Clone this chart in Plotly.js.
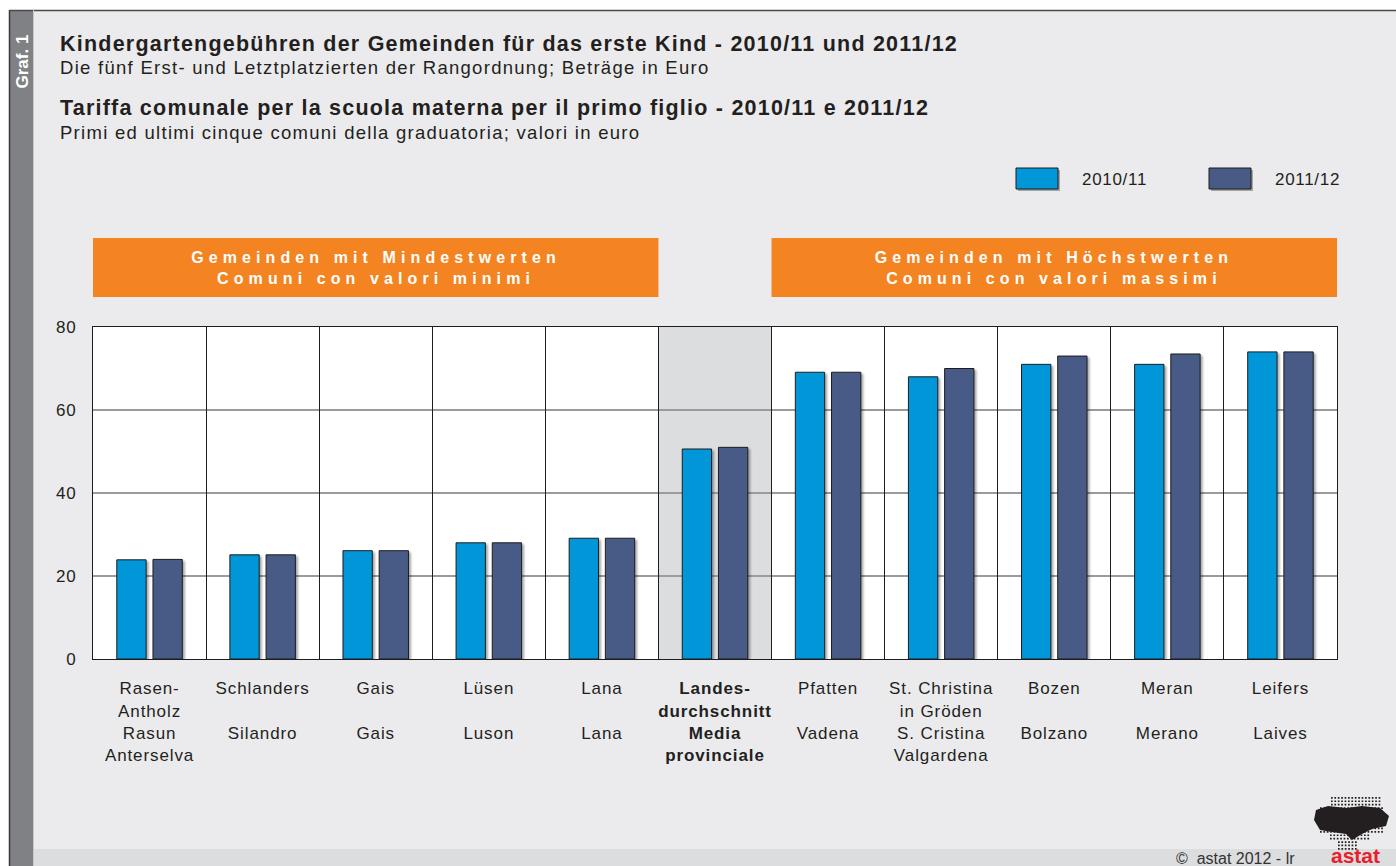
<!DOCTYPE html>
<html>
<head>
<meta charset="utf-8">
<script src="https://cdn.plot.ly/plotly-3.0.1.min.js"></script>
<style>
  html, body { margin: 0; padding: 0; background: #EBEBED; }
  #chart { width: 1396px; height: 866px; }
  .bars path { filter: drop-shadow(2px 2px 1px rgba(0,0,0,0.35)); }
  g.annotation[data-index="0"] text, g.annotation[data-index="2"] text { letter-spacing: 1.22px; }
  g.annotation[data-index="1"] text, g.annotation[data-index="3"] text { letter-spacing: 1.28px; }
  g.annotation[data-index="4"] text, g.annotation[data-index="5"] text { letter-spacing: 5.1px; }
  g.annotation[data-index="6"] text, g.annotation[data-index="7"] text { letter-spacing: 0.7px; }
  .xtick text, .ytick text { letter-spacing: 0.9px; }
</style>
</head>
<body>
<div id="chart"></div>
<script>
// ---- data ----
const categories = [
  "Rasen-<br>Antholz<br>Rasun<br>Anterselva",
  "Schlanders<br>\u00a0<br>Silandro",
  "Gais<br>\u00a0<br>Gais",
  "Lüsen<br>\u00a0<br>Luson",
  "Lana<br>\u00a0<br>Lana",
  "<b>Landes-</b><br><b>durchschnitt</b><br><b>Media</b><br><b>provinciale</b>",
  "Pfatten<br>\u00a0<br>Vadena",
  "St. Christina<br>in Gröden<br>S. Cristina<br>Valgardena",
  "Bozen<br>\u00a0<br>Bolzano",
  "Meran<br>\u00a0<br>Merano",
  "Leifers<br>\u00a0<br>Laives"
];
const values2010 = [23.9, 25.1, 26.1, 28.0, 29.1, 50.6, 69.1, 68.0, 71.0, 71.0, 74.0];
const values2011 = [24.0, 25.1, 26.1, 28.0, 29.1, 51.0, 69.1, 70.0, 73.0, 73.5, 74.0];
const seriesNames = ["2010/11", "2011/12"];
const averageIndex = 5;
const yTicks = [0, 20, 40, 60, 80];

// ---- geometry helpers (pixel -> paper) ----
const W = 1396, H = 866, ML = 93, MR = 59, MT = 327, MB = 207;
const PW = W - ML - MR, PH = H - MT - MB;
const fx = x => (x - ML) / PW;
const fy = y => (H - MB - y) / PH;

const FONT = "Liberation Sans, Arial, sans-serif";
const TXT = "#231F20";
const C1 = "#0096D8", C2 = "#475B86", ORANGE = "#F48422";
const n = categories.length;

const traces = [
  { type: "bar", x: categories, y: values2010, name: seriesNames[0],
    marker: { color: C1, line: { color: "#1d1d1f", width: 1 } }, hoverinfo: "y" },
  { type: "bar", x: categories, y: values2011, name: seriesNames[1],
    marker: { color: C2, line: { color: "#1d1d1f", width: 1 } }, hoverinfo: "y" },
  // invisible trace to activate overlay axis for category separators
  { type: "scatter", x: [-0.5, n - 0.5], y: [0, 0], xaxis: "x2", mode: "markers",
    marker: { opacity: 0 }, hoverinfo: "skip", showlegend: false }
];

const sep = [];
for (let i = 0; i < n - 1; i++) sep.push(i + 0.5);

// astat logo dot pattern (decorative)
let dots = "";
for (let yy = 797; yy <= 851; yy += 3.4) {
  let x0, x1;
  if (yy < 806) { x0 = 1331; x1 = 1381; }
  else if (yy < 832) { x0 = 1320; x1 = 1384; }
  else if (yy < 840) { x0 = 1330; x1 = 1368; }
  else { x0 = 1338; x1 = 1358; }
  for (let xx = x0; xx <= x1; xx += 3.4) {
    dots += `M ${fx(xx)} ${fy(yy)} L ${fx(xx + 1.7)} ${fy(yy)} L ${fx(xx + 1.7)} ${fy(yy + 1.7)} L ${fx(xx)} ${fy(yy + 1.7)} Z `;
  }
}

const shapes = [
  // white outer margin strips
  { type: "rect", xref: "paper", yref: "paper", x0: fx(0), x1: fx(9), y0: fy(0), y1: fy(H), fillcolor: "#ffffff", line: { width: 0 }, layer: "below" },
  { type: "rect", xref: "paper", yref: "paper", x0: fx(0), x1: fx(W), y0: fy(0), y1: fy(10), fillcolor: "#ffffff", line: { width: 0 }, layer: "below" },
  // sidebar
  { type: "rect", xref: "paper", yref: "paper", x0: fx(10), x1: fx(33), y0: fy(10), y1: fy(H), fillcolor: "#808184", line: { width: 0 }, layer: "below" },
  { type: "line", xref: "paper", yref: "paper", x0: fx(9.5), x1: fx(9.5), y0: fy(10), y1: fy(H), line: { color: "#3a3a3c", width: 1.5 }, layer: "below" },
  { type: "line", xref: "paper", yref: "paper", x0: fx(9), x1: fx(W), y0: fy(10.5), y1: fy(10.5), line: { color: "#4a4a4c", width: 1.5 }, layer: "below" },
  { type: "line", xref: "paper", yref: "paper", x0: fx(33.5), x1: fx(33.5), y0: fy(10), y1: fy(H), line: { color: "#c8c8ca", width: 1 }, layer: "below" },
  // bottom strip
  { type: "rect", xref: "paper", yref: "paper", x0: fx(34), x1: fx(W), y0: fy(849), y1: fy(H), fillcolor: "#DCDDDF", line: { width: 0 }, layer: "below" },
  // orange header boxes aligned with category groups
  { type: "rect", xref: "x", yref: "paper", x0: -0.5, x1: averageIndex - 0.5, y0: fy(297), y1: fy(238), fillcolor: ORANGE, line: { width: 0 } },
  { type: "rect", xref: "x", yref: "paper", x0: averageIndex + 0.5, x1: n - 0.5, y0: fy(297), y1: fy(238), fillcolor: ORANGE, line: { width: 0 } },
  // shaded average column
  { type: "rect", xref: "x", yref: "paper", x0: averageIndex - 0.5, x1: averageIndex + 0.5, y0: 0, y1: 1, fillcolor: "#DCDDDF", line: { width: 0 }, layer: "below" },
  // legend swatches
  { type: "rect", xref: "paper", yref: "paper", x0: fx(1018), x1: fx(1060), y0: fy(191), y1: fy(170), fillcolor: "rgba(0,0,0,0.3)", line: { width: 0 } },
  { type: "rect", xref: "paper", yref: "paper", x0: fx(1016), x1: fx(1058), y0: fy(189), y1: fy(168), fillcolor: C1, line: { color: "#1d1d1f", width: 1 } },
  { type: "rect", xref: "paper", yref: "paper", x0: fx(1211), x1: fx(1253), y0: fy(191), y1: fy(170), fillcolor: "rgba(0,0,0,0.3)", line: { width: 0 } },
  { type: "rect", xref: "paper", yref: "paper", x0: fx(1209), x1: fx(1251), y0: fy(189), y1: fy(168), fillcolor: C2, line: { color: "#1d1d1f", width: 1 } },
  // astat logo (approximation)
  { type: "path", xref: "paper", yref: "paper", path: dots, fillcolor: "#231F20", line: { width: 0 } },
  { type: "path", xref: "paper", yref: "paper",
    path: `M ${fx(1316)} ${fy(810)} L ${fx(1328)} ${fy(806)} L ${fx(1346)} ${fy(808)} L ${fx(1362)} ${fy(806)} L ${fx(1380)} ${fy(808)} L ${fx(1389)} ${fy(816)} L ${fx(1386)} ${fy(826)} L ${fx(1372)} ${fy(829)} L ${fx(1362)} ${fy(834)} L ${fx(1352)} ${fy(840)} L ${fx(1346)} ${fy(834)} L ${fx(1332)} ${fy(832)} L ${fx(1320)} ${fy(830)} L ${fx(1314)} ${fy(820)} Z`,
    fillcolor: "#231F20", line: { width: 0 } }
];

const ann = (text, x, y, opts) => Object.assign({
  text, xref: "paper", yref: "paper", x: fx(x), y: fy(y), showarrow: false,
  xanchor: "left", yanchor: "middle", align: "left", font: { family: FONT, size: 17, color: TXT }
}, opts || {});

const annotations = [
  ann("<b>Kindergartengebühren der Gemeinden für das erste Kind - 2010/11 und 2011/12</b>", 58, 44, { font: { family: FONT, size: 21.5, color: TXT } }),
  ann("Die fünf Erst- und Letztplatzierten der Rangordnung; Beträge in Euro", 58, 67, { font: { family: FONT, size: 18.5, color: TXT } }),
  ann("<b>Tariffa comunale per la scuola materna per il primo figlio - 2010/11 e 2011/12</b>", 58, 108, { font: { family: FONT, size: 21.5, color: TXT } }),
  ann("Primi ed ultimi cinque comuni della graduatoria; valori in euro", 58, 132, { font: { family: FONT, size: 18.5, color: TXT } }),
  { text: "<b>Gemeinden mit Mindestwerten</b><br><b>Comuni con valori minimi</b>", xref: "x", yref: "paper",
    x: (averageIndex - 1) / 2, y: fy(267.5), showarrow: false, xanchor: "center", yanchor: "middle",
    font: { family: FONT, size: 16, color: "#ffffff" } },
  { text: "<b>Gemeinden mit Höchstwerten</b><br><b>Comuni con valori massimi</b>", xref: "x", yref: "paper",
    x: (averageIndex + n) / 2, y: fy(267.5), showarrow: false, xanchor: "center", yanchor: "middle",
    font: { family: FONT, size: 16, color: "#ffffff" } },
  ann(seriesNames[0], 1080, 179),
  ann(seriesNames[1], 1273, 179),
  ann("<b>Graf. 1</b>", 21.5, 62, { textangle: -90, xanchor: "center", align: "center", font: { family: FONT, size: 17, color: "#ffffff" } }),
  ann("©  astat 2012 - lr", 1174, 858, { font: { family: FONT, size: 16, color: "#333333" } }),
  ann("<b>astat</b>", 1356, 855, { xanchor: "center", align: "center", font: { family: FONT, size: 21, color: "#E8202A" } })
];

const layout = {
  width: W, height: H,
  margin: { l: ML, r: MR, t: MT, b: MB, pad: 0 },
  paper_bgcolor: "#EBEBED",
  plot_bgcolor: "#ffffff",
  showlegend: false,
  barmode: "group",
  bargap: 0.36,
  bargroupgap: 0.19,
  font: { family: FONT, size: 17, color: TXT },
  xaxis: {
    type: "category", range: [-0.5, n - 0.5], fixedrange: true,
    showgrid: false, zeroline: false,
    showline: true, mirror: true, linecolor: "#1d1d1f", linewidth: 1,
    ticks: "", ticklabelstandoff: 14,
    tickfont: { family: FONT, size: 17, color: TXT }
  },
  xaxis2: {
    overlaying: "x", anchor: "y", range: [-0.5, n - 0.5], fixedrange: true,
    tickvals: sep, showticklabels: false, ticks: "",
    showgrid: true, gridcolor: "#1d1d1f", gridwidth: 1, zeroline: false, showline: false
  },
  yaxis: {
    range: [0, 80], tickvals: yTicks, fixedrange: true,
    showgrid: true, gridcolor: "#9b9b9b", gridwidth: 1.5, zeroline: false,
    showline: true, mirror: true, linecolor: "#1d1d1f", linewidth: 1,
    ticks: "", ticklabelstandoff: 12,
    tickfont: { family: FONT, size: 17, color: TXT }
  },
  shapes, annotations
};

Plotly.newPlot("chart", traces, layout, { displayModeBar: false, staticPlot: true });
</script>
</body>
</html>
